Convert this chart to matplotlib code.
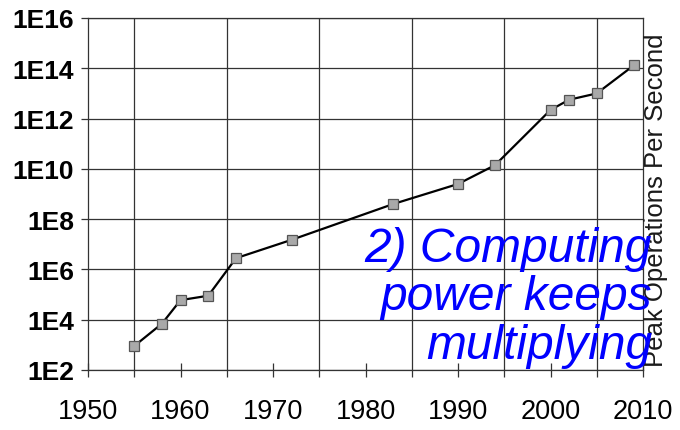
import matplotlib

matplotlib.use("Agg")

import matplotlib.pyplot as plt
import numpy as np
from matplotlib.ticker import FixedLocator, FuncFormatter

YEARS = [1955, 1958, 1960, 1963, 1966, 1972, 1983, 1990, 1994, 2000, 2002, 2005, 2009]
PEAK_OPS = [9e2, 7e3, 6e4, 9e4, 2.8e6, 1.5e7, 4e8, 2.5e9, 1.4e10, 2.2e12, 5.6e12, 1e13, 1.3e14]

X_TICKS = [1950, 1960, 1970, 1980, 1990, 2000, 2010]
X_GRID = [1955, 1965, 1975, 1985, 1995, 2005]
Y_TICKS = [1e2, 1e4, 1e6, 1e8, 1e10, 1e12, 1e14, 1e16]

Y_LABEL = "Peak Operations Per Second"
NOTE = "2) Computing\npower keeps\nmultiplying"

plt.rcParams["font.family"] = ["Liberation Sans", "DejaVu Sans"]

fig = plt.figure(figsize=(6.8, 4.31), dpi=100)
ax = fig.add_axes([88 / 680, 1 - 371 / 431, (643 - 88) / 680, (371 - 19) / 431])

ax.plot(
    YEARS,
    PEAK_OPS,
    color="black",
    linewidth=1.6,
    marker="s",
    markersize=6.5,
    markerfacecolor="#a9a9a9",
    markeredgecolor="#555555",
    markeredgewidth=0.9,
    zorder=3,
)

ax.set_yscale("log")
ax.set_xlim(1950, 2010)
ax.set_ylim(1e2, 1e16)

ax.yaxis.set_major_locator(FixedLocator(Y_TICKS))
ax.yaxis.set_minor_locator(FixedLocator([]))
ax.yaxis.set_major_formatter(FuncFormatter(lambda v, _: f"1E{int(round(np.log10(v)))}"))
ax.xaxis.set_major_locator(FixedLocator(X_TICKS))
ax.xaxis.set_minor_locator(FixedLocator(X_GRID))

ax.grid(True, axis="y", which="major", color="#333333", linewidth=0.9)
ax.grid(True, axis="x", which="minor", color="#333333", linewidth=0.9)
ax.set_axisbelow(True)

for spine in ax.spines.values():
    spine.set_color("#333333")
    spine.set_linewidth(0.9)

ax.tick_params(axis="y", which="major", direction="out", length=5, width=0.9,
               color="#333333", pad=5, labelsize=19)
ax.tick_params(axis="x", which="major", direction="inout", length=10, width=0.9,
               color="#333333", pad=15, labelsize=19.5)
ax.tick_params(axis="x", which="minor", direction="out", length=5, width=0.9,
               color="#333333")
for lbl in ax.get_yticklabels():
    lbl.set_fontweight("bold")

fig.text(656 / 680, 1 - 200 / 431, Y_LABEL, rotation=90, ha="center", va="center",
         fontsize=18.5, color="#1a1a1a")

fig.text(652 / 680, 1 - 227 / 431, NOTE, ha="right", va="top", multialignment="right",
         fontsize=34.5, style="italic", color="#0000ff", linespacing=1.1)

fig.savefig("out.png", dpi=100)
